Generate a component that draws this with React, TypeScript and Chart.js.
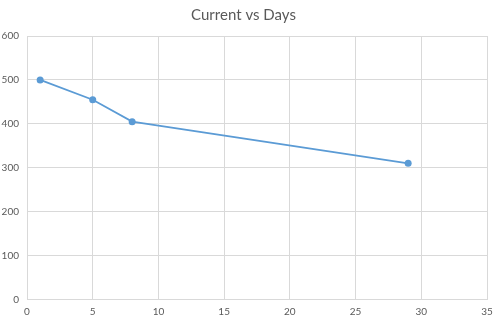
import React, { useEffect, useRef } from "react";
import { Chart, registerables } from "chart.js";

Chart.register(...registerables);

const days = [1, 5, 8, 29];
const current = [500, 455, 405, 310];
const chartTitle = "Current vs Days";

export default function App() {
  const ref = useRef<HTMLCanvasElement | null>(null);
  useEffect(() => {
    if (!ref.current) return;
    const font = "Lato, 'Open Sans', sans-serif";
    const chart = new Chart(ref.current, {
      type: "scatter",
      data: {
        datasets: [
          {
            label: "Current",
            data: days.map((d, i) => ({ x: d, y: current[i] })),
            showLine: true,
            borderColor: "#5b9bd5",
            backgroundColor: "#5b9bd5",
            borderWidth: 1.75,
            pointRadius: 3.5,
            pointBorderWidth: 0,
            tension: 0,
          },
        ],
      },
      options: {
        animation: false,
        responsive: false,
        maintainAspectRatio: false,
        layout: { padding: { left: 0, right: 13, top: 0, bottom: 0 } },
        plugins: {
          legend: { display: false },
          tooltip: { enabled: false },
          title: {
            display: true,
            text: chartTitle,
            color: "#595959",
            font: { family: font, size: 15, weight: "normal" },
            padding: { top: 6, bottom: 12 },
          },
        },
        scales: {
          x: {
            type: "linear",
            min: 0,
            max: 35,
            ticks: {
              stepSize: 5,
              color: "#595959",
              font: { family: font, size: 10 },
              padding: 6,
              maxRotation: 0,
            },
            grid: { color: "#d9d9d9", drawTicks: false },
            border: { color: "#d9d9d9" },
            afterFit: (s: any) => {
              s.height = 24.5;
            },
          },
          y: {
            min: 0,
            max: 600,
            ticks: {
              stepSize: 100,
              color: "#595959",
              font: { family: font, size: 10 },
              padding: 8,
            },
            grid: { color: "#d9d9d9", drawTicks: false },
            border: { color: "#d9d9d9" },
            afterFit: (s: any) => {
              s.width = 27;
            },
          },
        },
      },
    });
    return () => chart.destroy();
  }, []);
  return (
    <div style={{ position: "fixed", left: 0, top: 0, width: 500, height: 324, background: "#fff" }}>
      <canvas ref={ref} width={500} height={324} style={{ width: 500, height: 324 }} />
    </div>
  );
}
